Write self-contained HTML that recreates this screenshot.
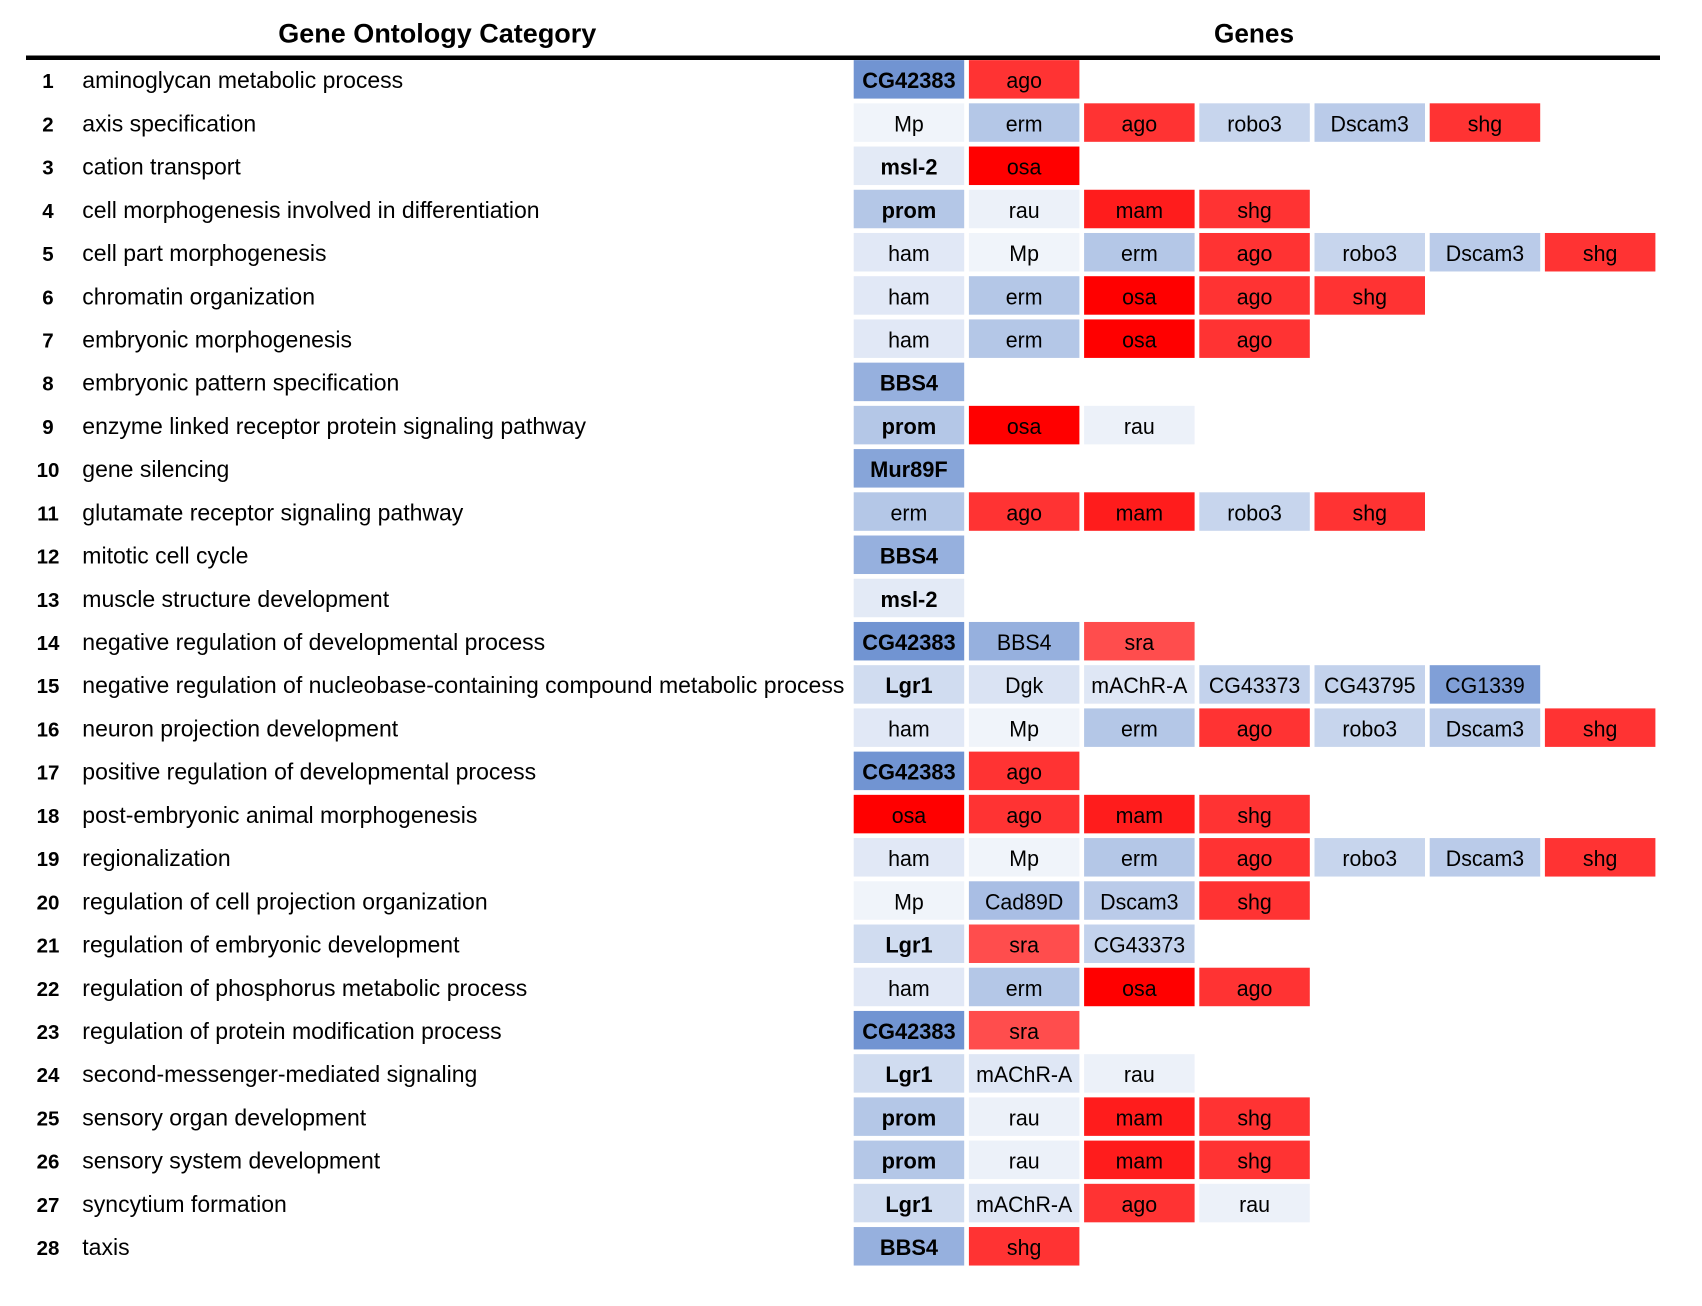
<!DOCTYPE html>
<html lang="en">
<head>
<meta charset="utf-8">
<title>Gene Ontology Categories and Genes</title>
<style>
  html, body { margin: 0; padding: 0; background: #fff; }
  body { width: 1702px; height: 1306px; overflow: hidden; }
  svg { display: block; font-family: "Liberation Sans", sans-serif; }
  text { fill: #000; }
</style>
</head>
<body>
<svg id="chart" xmlns="http://www.w3.org/2000/svg" width="1702" height="1306" viewBox="0 0 1702 1306">
  <rect x="0" y="0" width="1702" height="1306" fill="#ffffff"/>
  <text transform="translate(437.3,42.5)" text-anchor="middle" font-size="27" font-weight="700">Gene Ontology Category</text>
  <text transform="translate(1254,42.5) scale(0.97,1)" text-anchor="middle" font-size="27" font-weight="700">Genes</text>
  <rect x="26" y="55.5" width="1634" height="4.5" fill="#000000"/>
  <g id="rows"></g>
</svg>
<script>
const categories = [
  "aminoglycan metabolic process",
  "axis specification",
  "cation transport",
  "cell morphogenesis involved in differentiation",
  "cell part morphogenesis",
  "chromatin organization",
  "embryonic morphogenesis",
  "embryonic pattern specification",
  "enzyme linked receptor protein signaling pathway",
  "gene silencing",
  "glutamate receptor signaling pathway",
  "mitotic cell cycle",
  "muscle structure development",
  "negative regulation of developmental process",
  "negative regulation of nucleobase-containing compound metabolic process",
  "neuron projection development",
  "positive regulation of developmental process",
  "post-embryonic animal morphogenesis",
  "regionalization",
  "regulation of cell projection organization",
  "regulation of embryonic development",
  "regulation of phosphorus metabolic process",
  "regulation of protein modification process",
  "second-messenger-mediated signaling",
  "sensory organ development",
  "sensory system development",
  "syncytium formation",
  "taxis"
];
const rowGenes = [
  ["CG42383","ago"],
  ["Mp","erm","ago","robo3","Dscam3","shg"],
  ["msl-2","osa"],
  ["prom","rau","mam","shg"],
  ["ham","Mp","erm","ago","robo3","Dscam3","shg"],
  ["ham","erm","osa","ago","shg"],
  ["ham","erm","osa","ago"],
  ["BBS4"],
  ["prom","osa","rau"],
  ["Mur89F"],
  ["erm","ago","mam","robo3","shg"],
  ["BBS4"],
  ["msl-2"],
  ["CG42383","BBS4","sra"],
  ["Lgr1","Dgk","mAChR-A","CG43373","CG43795","CG1339"],
  ["ham","Mp","erm","ago","robo3","Dscam3","shg"],
  ["CG42383","ago"],
  ["osa","ago","mam","shg"],
  ["ham","Mp","erm","ago","robo3","Dscam3","shg"],
  ["Mp","Cad89D","Dscam3","shg"],
  ["Lgr1","sra","CG43373"],
  ["ham","erm","osa","ago"],
  ["CG42383","sra"],
  ["Lgr1","mAChR-A","rau"],
  ["prom","rau","mam","shg"],
  ["prom","rau","mam","shg"],
  ["Lgr1","mAChR-A","ago","rau"],
  ["BBS4","shg"]
];
const geneNames = ["CG42383","CG1339","BBS4","Mur89F","Cad89D","erm","prom","Dscam3","CG43373","CG43795","robo3","Lgr1","Dgk","mAChR-A","ham","msl-2","rau","Mp","sra","ago","shg","mam","osa"];
const geneValues = [-0.76,-0.68,-0.56,-0.64,-0.46,-0.40,-0.40,-0.37,-0.32,-0.32,-0.30,-0.25,-0.20,-0.17,-0.16,-0.15,-0.10,-0.08,0.70,0.80,0.80,0.89,1.00];
const boldLeadGenes = ["CG42383","msl-2","prom","BBS4","Mur89F","Lgr1"];

function rowY(rowIndex) { return 60.1 + rowIndex * 43.22; }
function colX(colIndex) { return 853.7 + colIndex * 115.2; }
function colorScale(value) {
  const end = value < 0 ? [68, 114, 196] : [255, 0, 0];
  const t = Math.min(1, Math.abs(value));
  const mix = end.map(function (c) { return Math.round(255 + (c - 255) * t); });
  return "rgb(" + mix.join(",") + ")";
}

const NS = "http://www.w3.org/2000/svg";
const CELL_W = 110.5;
const CELL_H = 38.5;
const group = document.getElementById("rows");

categories.forEach(function (name, r) {
  const cy = rowY(r) + CELL_H / 2;
  const base = cy + 8.8;

  const num = document.createElementNS(NS, "text");
  
  
  num.setAttribute("x", 48);
  num.setAttribute("y", base);
  num.setAttribute("text-anchor", "middle");
  num.setAttribute("font-size", "20.5");
  num.setAttribute("font-weight", "700");
  num.textContent = String(r + 1);
  group.appendChild(num);

  const label = document.createElementNS(NS, "text");
  
  
  label.setAttribute("x", 82.3);
  label.setAttribute("y", base);
  label.setAttribute("font-size", "23");
  label.textContent = name;
  group.appendChild(label);

  rowGenes[r].forEach(function (gene, c) {
    const value = geneValues[geneNames.indexOf(gene)];
    const isBold = c === 0 && boldLeadGenes.indexOf(gene) !== -1;
    const rect = document.createElementNS(NS, "rect");
    
    
    rect.setAttribute("x", colX(c));
    rect.setAttribute("y", rowY(r));
    rect.setAttribute("width", CELL_W);
    rect.setAttribute("height", CELL_H);
    rect.setAttribute("fill", colorScale(value));
    group.appendChild(rect);

    const text = document.createElementNS(NS, "text");
    
    
    text.setAttribute("transform", "translate(" + (colX(c) + CELL_W / 2) + "," + base + ") scale(" + (isBold ? 0.97 : 0.95) + ",1)");
    text.setAttribute("text-anchor", "middle");
    text.setAttribute("font-size", "22.5");
    if (isBold) {
      text.setAttribute("font-weight", "700");
    }
    text.textContent = gene;
    group.appendChild(text);
  });
});
</script>
</body>
</html>
